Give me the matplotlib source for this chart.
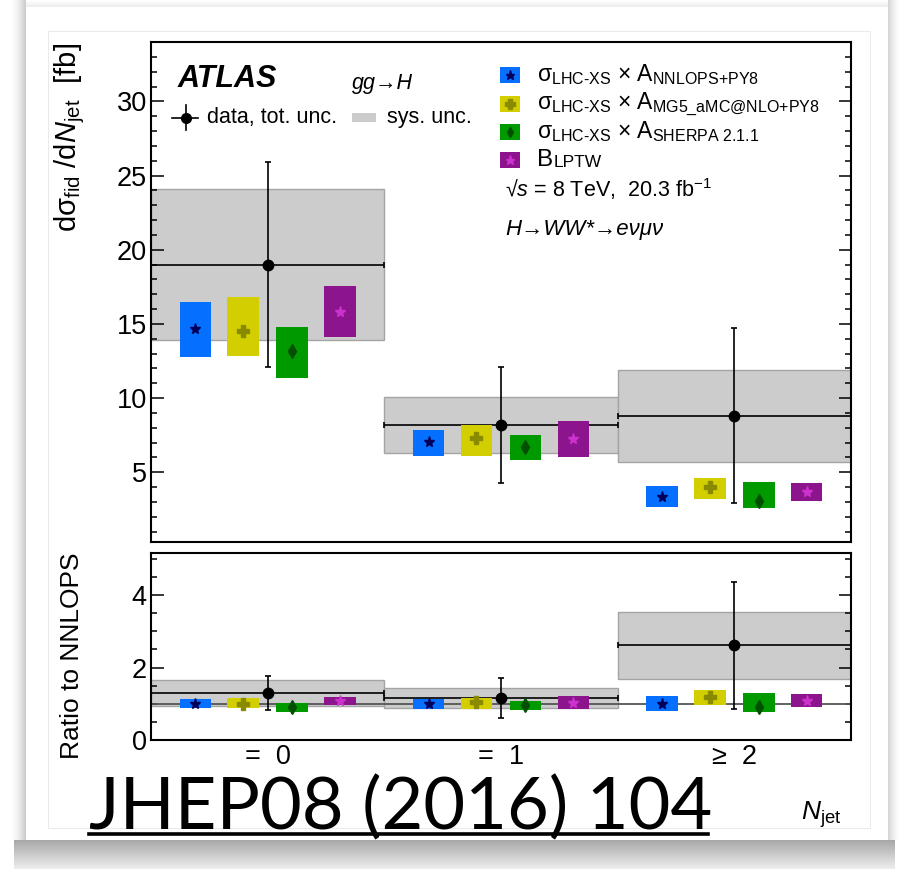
import numpy as np
import matplotlib
matplotlib.use("Agg")
import matplotlib.pyplot as plt
from matplotlib.patches import Rectangle
from matplotlib.lines import Line2D
from matplotlib.ticker import MultipleLocator

plt.rcParams['font.family'] = ['Liberation Sans', 'DejaVu Sans']
plt.rcParams['mathtext.fontset'] = 'custom'
plt.rcParams['mathtext.rm'] = 'Liberation Sans'
plt.rcParams['mathtext.it'] = 'Liberation Sans:italic'
plt.rcParams['mathtext.bf'] = 'Liberation Sans:bold'
plt.rcParams['mathtext.sf'] = 'Liberation Sans'

# ---- measured fiducial cross sections per jet-multiplicity bin [fb] ----
bins = ["=  0", "=  1", "≥  2"]
data = [19.0, 8.2, 8.8]
data_tot = [6.9, 3.9, 5.9]
data_sys = [5.1, 1.9, 3.1]

# ---- predictions: central value and uncertainty band edges ----
nnlops = [14.65, 7.03, 3.36]
nnlops_lo = [12.8, 6.09, 2.69]
nnlops_hi = [16.5, 7.88, 4.07]

mg5 = [14.54, 7.34, 4.0]
mg5_lo = [12.87, 6.09, 3.23]
mg5_hi = [16.8, 8.2, 4.63]

sherpa = [13.19, 6.70, 3.07]
sherpa_lo = [11.37, 5.86, 2.58]
sherpa_hi = [14.76, 7.53, 4.36]

lptw = [15.8, 7.25, 3.66]
lptw_lo = [14.11, 6.02, 3.03]
lptw_hi = [17.53, 8.47, 4.29]

W, H = 903, 869
fig = plt.figure(figsize=(W / 100, H / 100), dpi=100)
fig.patch.set_facecolor('white')

# ---- card background with drop shadow ----
bg = np.ones((H, W))
cx0, cx1, cy0, cy1 = 26, 888, 7, 840
for xx in range(10, cx0):
    bg[:cy1, xx] = 1 - 0.22 * ((xx - 10) / (cx0 - 10)) ** 1.6
for xx in range(cx1, min(W, cx1 + 12)):
    bg[:cy1, xx] = 1 - 0.16 * (1 - (xx - cx1) / 12) ** 1.6
for yy in range(0, cy0):
    bg[yy, cx0:cx1] = np.minimum(bg[yy, cx0:cx1], 1 - 0.08 * (yy / cy0))
for yy in range(cy1, H):
    t = (yy - cy1) / (H - cy1)
    bg[yy, 14:W - 8] = 0.66 + 0.28 * t
# thin inner frame
bx0, bx1, by0, by1 = 48, 870, 31, 828
bg[by0, bx0:bx1 + 1] = 0.92
bg[by1, bx0:bx1 + 1] = 0.92
bg[by0:by1 + 1, bx0] = 0.92
bg[by0:by1 + 1, bx1] = 0.92
img = fig.figimage(np.dstack([bg, bg, bg]), xo=0, yo=0, origin='upper')
img.set_zorder(-10)

ax1 = fig.add_axes([151 / W, 1 - 542 / H, 700 / W, 500 / H])
ax2 = fig.add_axes([151 / W, 1 - 740 / H, 700 / W, 187.3 / H])

x = np.arange(len(bins))
d = np.array(data)
dtot = np.array(data_tot)
dsys = np.array(data_sys)
ref = np.array(nnlops)

models = [
    (nnlops, nnlops_lo, nnlops_hi, '#0570ff', '*', '#00005a', 8),
    (mg5, mg5_lo, mg5_hi, '#d2ce00', 'P', '#8a8a00', 8),
    (sherpa, sherpa_lo, sherpa_hi, '#009a00', 'd', '#005000', 7),
    (lptw, lptw_lo, lptw_hi, '#8c148c', '*', '#cc33cc', 8),
]
offsets = [-0.31, -0.105, 0.105, 0.31]
bw = 0.135

for ax, scale in [(ax1, np.ones(3)), (ax2, ref)]:
    ax.bar(x, 2 * dsys / scale, bottom=(d - dsys) / scale, width=1.0,
           color='#cccccc', edgecolor='#a4a4a4', linewidth=1.0, zorder=1)
    ax.errorbar(x, d / scale, yerr=dtot / scale, xerr=0.5, fmt='o', color='black',
                ms=7.5, lw=1.2, elinewidth=1.2, capsize=2.5, capthick=1.2, zorder=3)
    for (cen, lo, hi, col, mk, mcol, ms), off in zip(models, offsets):
        lo = np.array(lo)
        hi = np.array(hi)
        ax.bar(x + off, (hi - lo) / scale, bottom=lo / scale, width=bw,
               color=col, linewidth=0, zorder=4)
        ax.plot(x + off, np.array(cen) / scale, ls='none', marker=mk,
                color=mcol, mec=mcol, ms=ms, zorder=5)
    ax.set_xlim(-0.5, 2.5)
    for sp in ax.spines.values():
        sp.set_linewidth(1.5)
    ax.tick_params(axis='y', which='both', direction='in', left=True, right=True,
                   labelsize=19.5, width=1.1, pad=3)
    ax.tick_params(axis='y', which='major', length=9)
    ax.tick_params(axis='y', which='minor', length=4.5)
    ax.tick_params(axis='x', length=0)

ax2.axhline(1.0, color='#555555', lw=1.3, zorder=2)

ax1.set_ylim(0.3, 34.0)
ax1.yaxis.set_major_locator(MultipleLocator(5))
ax1.yaxis.set_minor_locator(MultipleLocator(1))
ax1.set_yticks([5, 10, 15, 20, 25, 30])
ax1.set_xticks([])

ax2.set_ylim(0, 5.17)
ax2.yaxis.set_major_locator(MultipleLocator(2))
ax2.yaxis.set_minor_locator(MultipleLocator(0.5))
ax2.set_xticks(x)
ax2.set_xticklabels(bins, fontsize=19.5)
ax2.tick_params(axis='x', pad=3)

# ---- axis titles ----
fig.text(70 / W, 1 - 43 / H, r"dσ$_{\rm fid}$ /d$N_{\rm jet}$  [fb]",
         rotation=90, ha='center', va='top', fontsize=21)
fig.text(72 / W, 1 - 656 / H, "Ratio to NNLOPS", rotation=90,
         ha='center', va='center', fontsize=19)
fig.text(821 / W, 1 - 815 / H, r"$N_{\rm jet}$", ha='center', va='center',
         fontsize=19)

# ---- annotations in the upper panel ----
T = ax1.transAxes
ax1.text(0.0386, 0.926, "ATLAS", transform=T, fontsize=22, fontweight='bold',
         style='italic', va='center', ha='left')
ax1.text(0.287, 0.916, "gg→H", transform=T, fontsize=15.5, style='italic',
         va='center', ha='left')

# data / systematic legend
ax1.add_line(Line2D([0.03, 0.067], [0.848, 0.848], transform=T, color='k', lw=1.2))
ax1.add_line(Line2D([0.05, 0.05], [0.824, 0.874], transform=T, color='k', lw=1.2))
ax1.plot([0.05], [0.848], 'o', color='k', ms=7, transform=T)
ax1.text(0.08, 0.849, "data, tot. unc.", transform=T, fontsize=15.5, va='center')
ax1.add_patch(Rectangle((0.287, 0.84), 0.034, 0.018, transform=T,
                        facecolor='#cccccc', edgecolor='none'))
ax1.text(0.337, 0.849, "sys. unc.", transform=T, fontsize=15.5, va='center')

# prediction legend
labels = [
    r"σ$_{\mathrm{LHC\text{-}XS}}$ × A$_{\mathrm{NNLOPS{+}PY8}}$",
    r"σ$_{\mathrm{LHC\text{-}XS}}$ × A$_{\mathrm{MG5\_aMC@NLO{+}PY8}}$",
    r"σ$_{\mathrm{LHC\text{-}XS}}$ × A$_{\mathrm{SHERPA\ 2.1.1}}$",
]
rows = [0.934, 0.876, 0.82, 0.764]
for (cen, lo, hi, col, mk, mcol, ms), yr in zip(models, rows):
    ax1.add_patch(Rectangle((0.4986, yr - 0.016), 0.0286, 0.032, transform=T,
                            facecolor=col, edgecolor='none'))
    ax1.plot([0.5129], [yr], ls='none', marker=mk, color=mcol, ms=ms - 1.5,
             transform=T)
for lab, yr in zip(labels, rows[:3]):
    ax1.text(0.5514, yr, lab, transform=T, fontsize=16.5, va='center', ha='left')
tb = ax1.text(0.5514, rows[3], "B", transform=T, fontsize=17.5, va='center', ha='left')
ax1.annotate("LPTW", xy=(1, 0), xycoords=tb, xytext=(0.5, 0.8),
             textcoords='offset points', fontsize=12.5, va='bottom', ha='left')

ax1.text(0.5057, 0.706, r"√$s$ = 8 TeV,  20.3 fb$^{\mathregular{-1}}$", transform=T,
         fontsize=15.5, va='center', ha='left')
ax1.text(0.5057, 0.624, "H→WW*→eνμν", transform=T, fontsize=16, style='italic',
         va='center', ha='left')

# ---- journal reference ----
fig.text(89 / W, 1 - 829 / H, "JHEP08 (2016) 104", fontsize=52,
         family=['Lato', 'DejaVu Sans'],
         ha='left', va='baseline', zorder=10)
fig.add_artist(Line2D([89 / W, 708 / W], [1 - 834 / H] * 2, transform=fig.transFigure,
                      color='black', lw=2.6, zorder=10))

fig.savefig("out.png", dpi=100)
